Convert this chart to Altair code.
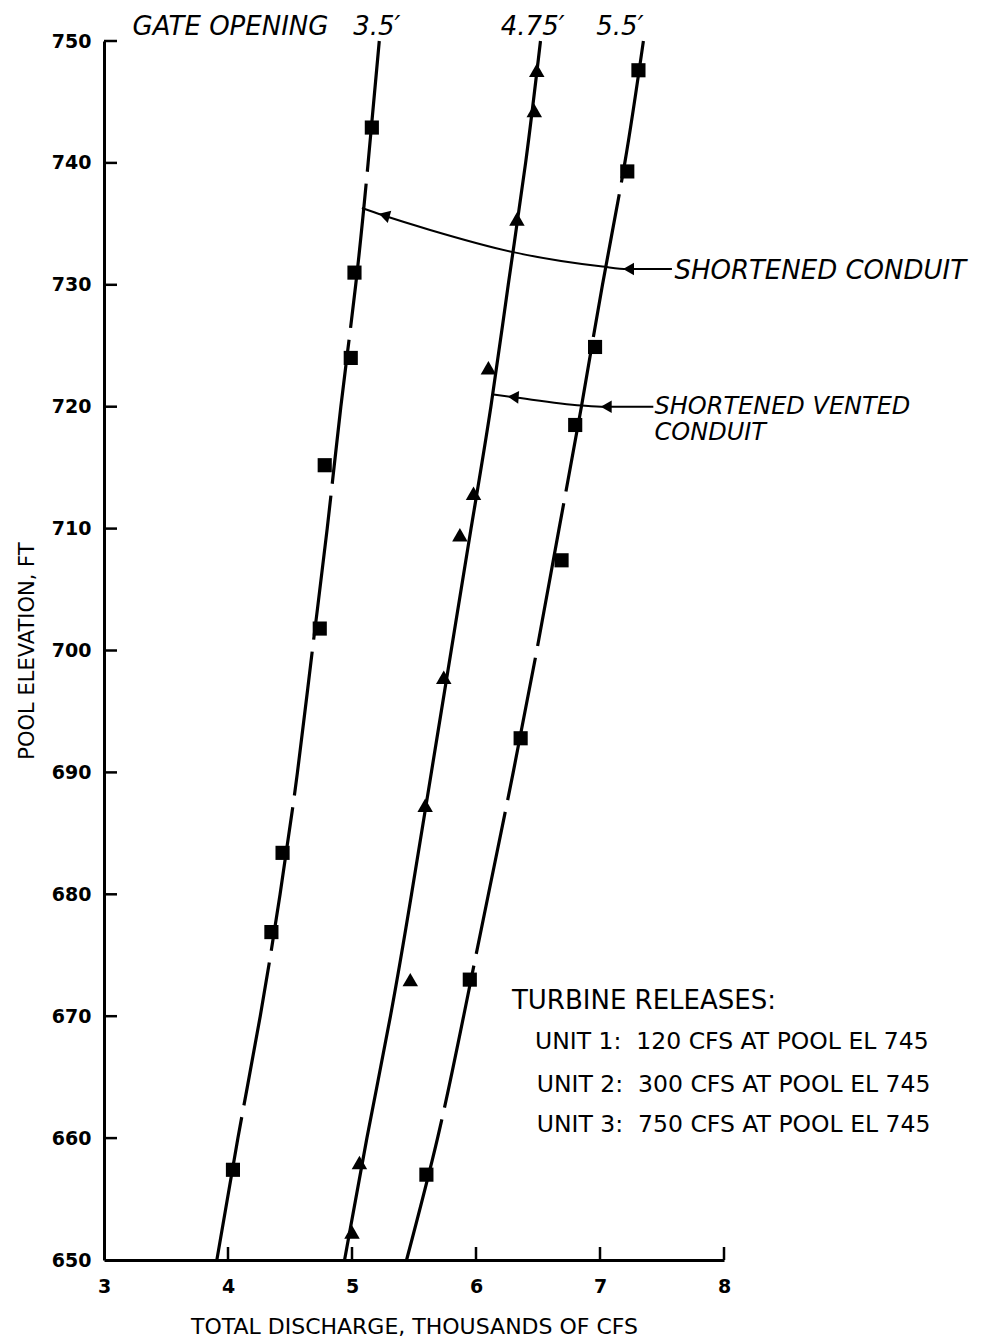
import altair as alt
import pandas as pd

# ---------------- data ----------------
# faired curves (pool elevation ft, total discharge thousands cfs)
curve_el = [650, 660, 670, 680, 690, 700, 710, 720, 730, 740, 750]
curve_35_q = [3.91, 4.08, 4.26, 4.42, 4.56, 4.68, 4.80, 4.91, 5.03, 5.13, 5.22]
curve_475_q = [4.94, 5.12, 5.31, 5.48, 5.64, 5.80, 5.96, 6.12, 6.26, 6.40, 6.52]
curve_55_q = [5.44, 5.69, 5.90, 6.10, 6.30, 6.49, 6.67, 6.85, 7.02, 7.20, 7.35]

# observed points, shortened conduit (squares)
sq35_q = [5.16, 5.02, 4.99, 4.78, 4.74, 4.44, 4.35, 4.04]
sq35_el = [742.9, 731.0, 724.0, 715.2, 701.8, 683.4, 676.9, 657.4]
sq55_q = [7.31, 7.22, 6.96, 6.80, 6.69, 6.36, 5.95, 5.60]
sq55_el = [747.6, 739.3, 724.9, 718.5, 707.4, 692.8, 673.0, 657.0]

# observed points, shortened vented conduit (triangles)
tri475_q = [6.49, 6.47, 6.33, 6.10, 5.98, 5.87, 5.74, 5.59, 5.47, 5.06, 5.00]
tri475_el = [747.6, 744.3, 735.4, 723.2, 712.9, 709.5, 697.8, 687.3, 673.0, 658.0, 652.3]

# leader lines for the labels
lead1_q = [5.08, 5.25, 5.63, 6.29, 7.02, 7.22, 7.58]
lead1_el = [736.3, 735.7, 734.5, 732.7, 731.5, 731.3, 731.3]
lead2_q = [6.14, 6.29, 6.85, 7.04, 7.43]
lead2_el = [721.0, 720.8, 720.1, 720.0, 720.0]
arrow_q = [5.26, 7.23, 6.30, 7.05]
arrow_el = [735.7, 731.3, 720.8, 720.0]
arrow_angle = [16, 0, 4, 0]

x_ticks = [3, 4, 5, 6, 7, 8]
y_ticks = [650, 660, 670, 680, 690, 700, 710, 720, 730, 740, 750]

# text labels
gate_text = ["GATE OPENING", "3.5\u2032", "4.75\u2032", "5.5\u2032"]
gate_q = [3.23, 5.01, 6.20, 6.97]
gate_el = [751.15, 751.15, 751.15, 751.15]

cond1_text = ["SHORTENED CONDUIT"]
cond1_q = [7.60]
cond1_el = [731.15]
cond2_text = ["SHORTENED VENTED", "CONDUIT"]
cond2_q = [7.44, 7.44]
cond2_el = [720.0, 717.85]

turb_head = ["TURBINE RELEASES:"]
turb_head_q = [6.29]
turb_head_el = [671.25]
unit_text = [
    "UNIT 1: \u00a0120 CFS AT POOL EL 745",
    "UNIT 2: \u00a0300 CFS AT POOL EL 745",
    "UNIT 3: \u00a0750 CFS AT POOL EL 745",
]
unit_q = [6.476, 6.49, 6.49]
unit_el = [667.9, 664.35, 661.05]

# ---------------- build chart ----------------
W, H = 620, 1219
FONT = "DejaVu Sans"

xs = alt.Scale(domain=[3, 8], nice=False, zero=False)
ys = alt.Scale(domain=[650, 750], nice=False, zero=False)

curves = pd.DataFrame({
    "el": curve_el * 3,
    "q": curve_35_q + curve_475_q + curve_55_q,
    "gate": ["3.5"] * 11 + ["4.75"] * 11 + ["5.5"] * 11,
})

X = alt.X("q:Q", scale=xs, axis=alt.Axis(
    title="TOTAL DISCHARGE, THOUSANDS OF CFS", values=x_ticks, ticks=False,
    grid=False, domainColor="black", domainWidth=3, format="d",
    labelFont=FONT, labelFontWeight="bold", labelFontSize=19, labelColor="black",
    labelPadding=17, labelFlush=False, labelOverlap=False,
    titleFont=FONT, titleFontWeight="normal", titleFontSize=22, titleColor="black",
    titlePadding=20))
Y = alt.Y("el:Q", scale=ys, axis=alt.Axis(
    title="POOL ELEVATION, FT", values=y_ticks, ticks=False, grid=False,
    domainColor="black", domainWidth=3, format="d",
    labelFont=FONT, labelFontWeight="bold", labelFontSize=19, labelColor="black",
    labelPadding=13, labelFlush=False, labelOverlap=False,
    titleFont=FONT, titleFontWeight="normal", titleFontSize=21, titleColor="black",
    titlePadding=14))

dashed = alt.Chart(curves[curves.gate != "4.75"]).mark_line(
    color="black", strokeWidth=3.2, strokeDash=[145, 12], interpolate="natural"
).encode(x=X, y=Y, detail="gate:N", order="el:Q")

solid = alt.Chart(curves[curves.gate == "4.75"]).mark_line(
    color="black", strokeWidth=3.2, interpolate="natural"
).encode(x=alt.X("q:Q", scale=xs), y=alt.Y("el:Q", scale=ys), order="el:Q")

squares = alt.Chart(pd.DataFrame({"q": sq35_q + sq55_q, "el": sq35_el + sq55_el})).mark_point(
    shape="square", filled=True, color="black", opacity=1, size=200
).encode(x=alt.X("q:Q", scale=xs), y=alt.Y("el:Q", scale=ys))

tris = alt.Chart(pd.DataFrame({"q": tri475_q, "el": tri475_el})).mark_point(
    shape="triangle-up", filled=True, color="black", opacity=1, size=240
).encode(x=alt.X("q:Q", scale=xs), y=alt.Y("el:Q", scale=ys))

leads = pd.DataFrame({
    "q": lead1_q + lead2_q,
    "el": lead1_el + lead2_el,
    "id": ["a"] * len(lead1_q) + ["b"] * len(lead2_q),
    "i": list(range(len(lead1_q))) + list(range(len(lead2_q))),
})
leader = alt.Chart(leads).mark_line(color="black", strokeWidth=2, interpolate="monotone").encode(
    x=alt.X("q:Q", scale=xs), y=alt.Y("el:Q", scale=ys), detail="id:N", order="i:Q")

arrows = alt.Chart(pd.DataFrame({"q": arrow_q, "el": arrow_el, "a": arrow_angle})).mark_point(
    shape="triangle-left", filled=True, color="black", opacity=1, size=160
).encode(x=alt.X("q:Q", scale=xs), y=alt.Y("el:Q", scale=ys),
         angle=alt.Angle("a:Q", scale=None))

xtick = alt.Chart(pd.DataFrame({"t": x_ticks[1:]})).mark_rule(color="black", strokeWidth=2.5).encode(
    x=alt.X("t:Q", scale=xs), y=alt.value(H), y2=alt.value(H - 13))
ytick = alt.Chart(pd.DataFrame({"t": y_ticks[1:]})).mark_rule(color="black", strokeWidth=2.5).encode(
    y=alt.Y("t:Q", scale=ys), x=alt.value(0), x2=alt.value(13))

def label_layer(texts, qs, els, size, style="normal"):
    return alt.Chart(pd.DataFrame({"t": texts, "q": qs, "el": els})).mark_text(
        align="left", baseline="middle", font=FONT, fontSize=size,
        fontStyle=style, color="black"
    ).encode(x=alt.X("q:Q", scale=xs), y=alt.Y("el:Q", scale=ys), text="t:N")

gate_lbl = label_layer(gate_text, gate_q, gate_el, 26, "italic")
cond1_lbl = label_layer(cond1_text, cond1_q, cond1_el, 26, "italic")
cond2_lbl = label_layer(cond2_text, cond2_q, cond2_el, 24, "italic")
turb_lbl = label_layer(turb_head, turb_head_q, turb_head_el, 26)
unit_lbl = label_layer(unit_text, unit_q, unit_el, 23.5)

chart = alt.layer(
    dashed, solid, squares, tris, leader, arrows, xtick, ytick,
    gate_lbl, cond1_lbl, cond2_lbl, turb_lbl, unit_lbl
).properties(
    width=W, height=H,
    autosize=alt.AutoSizeParams(type="none"),
    padding={"left": 96, "top": 33, "right": 259, "bottom": 80},
).configure(background="white").configure_view(stroke=None)

chart.save("out.html", embed_options={"renderer": "svg", "actions": False})
